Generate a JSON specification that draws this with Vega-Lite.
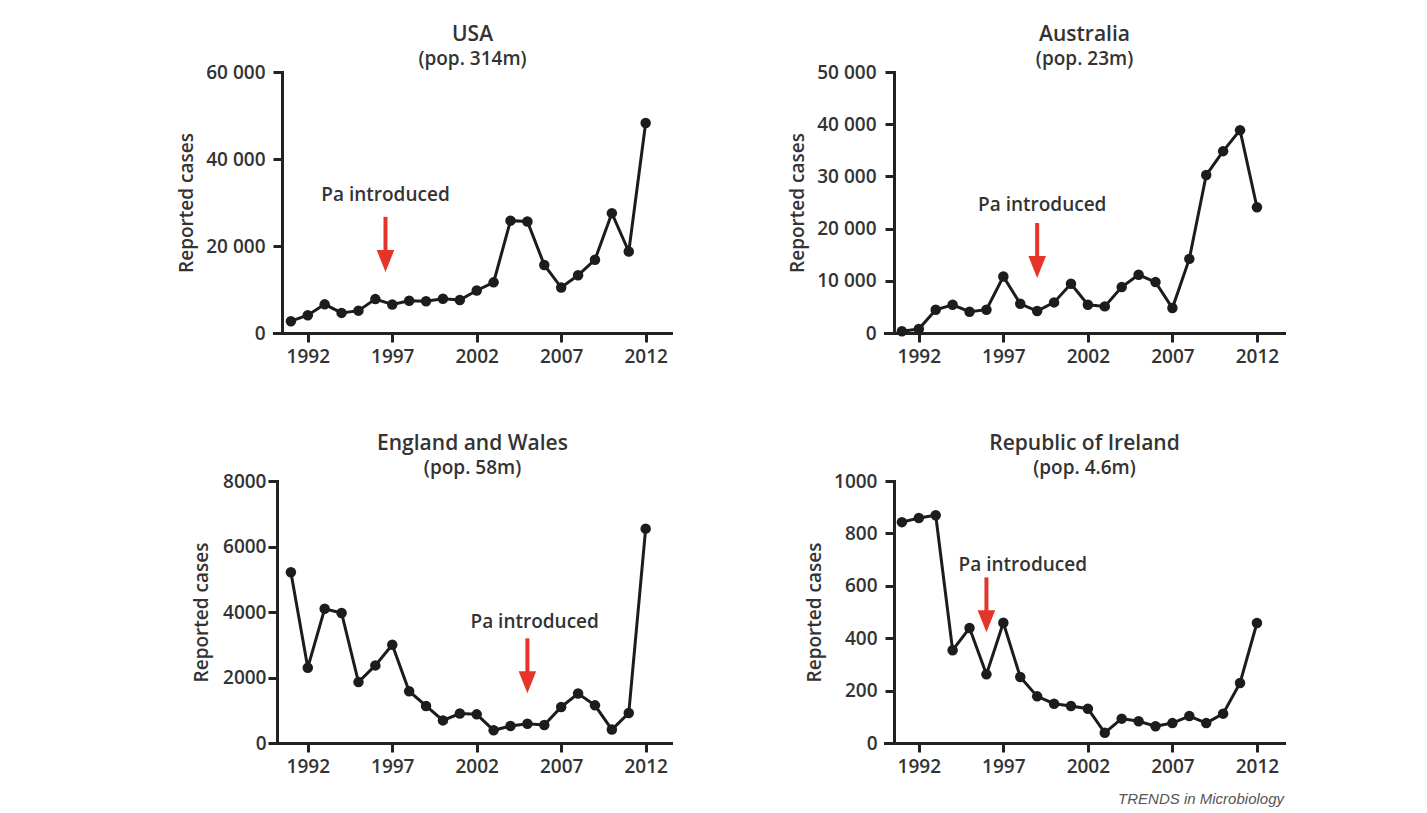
{
  "$schema": "https://vega.github.io/schema/vega-lite/v6.json",
  "background": "white",
  "padding": {"left": 177, "top": 24, "right": 10, "bottom": 5},
  "autosize": {"type": "pad"},
  "config": {
    "font": "Open Sans",
    "view": {"stroke": null},
    "axis": {
      "labelFont": "Open Sans", "labelFontWeight": 600, "labelFontSize": 19, "labelColor": "#333333",
      "titleFont": "Open Sans", "titleFontWeight": 600, "titleFontSize": 19, "titleColor": "#333333",
      "domainColor": "#222222", "domainWidth": 3, "tickColor": "#222222", "tickWidth": 3, "tickSize": 9,
      "grid": false, "domainCap": "square"
    },
    "title": {
      "font": "Open Sans", "fontSize": 21, "fontWeight": 600, "color": "#333333",
      "subtitleFont": "Open Sans", "subtitleFontSize": 19, "subtitleFontWeight": 600, "subtitleColor": "#333333",
      "anchor": "middle", "frame": "group", "offset": -6, "subtitlePadding": 5
    }
  },
  "datasets": {
    "usa": [
      {"year": 1991, "cases": 2719}, {"year": 1992, "cases": 4083}, {"year": 1993, "cases": 6586},
      {"year": 1994, "cases": 4617}, {"year": 1995, "cases": 5137}, {"year": 1996, "cases": 7796},
      {"year": 1997, "cases": 6564}, {"year": 1998, "cases": 7405}, {"year": 1999, "cases": 7288},
      {"year": 2000, "cases": 7867}, {"year": 2001, "cases": 7580}, {"year": 2002, "cases": 9771},
      {"year": 2003, "cases": 11647}, {"year": 2004, "cases": 25827}, {"year": 2005, "cases": 25616},
      {"year": 2006, "cases": 15632}, {"year": 2007, "cases": 10454}, {"year": 2008, "cases": 13278},
      {"year": 2009, "cases": 16858}, {"year": 2010, "cases": 27550}, {"year": 2011, "cases": 18719},
      {"year": 2012, "cases": 48277}
    ],
    "australia": [
      {"year": 1991, "cases": 320}, {"year": 1992, "cases": 760}, {"year": 1993, "cases": 4460},
      {"year": 1994, "cases": 5400}, {"year": 1995, "cases": 4080}, {"year": 1996, "cases": 4460},
      {"year": 1997, "cases": 10830}, {"year": 1998, "cases": 5600}, {"year": 1999, "cases": 4200},
      {"year": 2000, "cases": 5860}, {"year": 2001, "cases": 9430}, {"year": 2002, "cases": 5400},
      {"year": 2003, "cases": 5100}, {"year": 2004, "cases": 8790}, {"year": 2005, "cases": 11150},
      {"year": 2006, "cases": 9750}, {"year": 2007, "cases": 4780}, {"year": 2008, "cases": 14200},
      {"year": 2009, "cases": 30260}, {"year": 2010, "cases": 34840}, {"year": 2011, "cases": 38860},
      {"year": 2012, "cases": 24080}
    ],
    "england": [
      {"year": 1991, "cases": 5212}, {"year": 1992, "cases": 2300}, {"year": 1993, "cases": 4100},
      {"year": 1994, "cases": 3970}, {"year": 1995, "cases": 1860}, {"year": 1996, "cases": 2370},
      {"year": 1997, "cases": 3000}, {"year": 1998, "cases": 1580}, {"year": 1999, "cases": 1130},
      {"year": 2000, "cases": 690}, {"year": 2001, "cases": 900}, {"year": 2002, "cases": 875},
      {"year": 2003, "cases": 390}, {"year": 2004, "cases": 520}, {"year": 2005, "cases": 590},
      {"year": 2006, "cases": 550}, {"year": 2007, "cases": 1100}, {"year": 2008, "cases": 1510},
      {"year": 2009, "cases": 1150}, {"year": 2010, "cases": 410}, {"year": 2011, "cases": 915},
      {"year": 2012, "cases": 6545}
    ],
    "ireland": [
      {"year": 1991, "cases": 843}, {"year": 1992, "cases": 859}, {"year": 1993, "cases": 869},
      {"year": 1994, "cases": 354}, {"year": 1995, "cases": 439}, {"year": 1996, "cases": 262},
      {"year": 1997, "cases": 459}, {"year": 1998, "cases": 252}, {"year": 1999, "cases": 178},
      {"year": 2000, "cases": 150}, {"year": 2001, "cases": 141}, {"year": 2002, "cases": 131},
      {"year": 2003, "cases": 39}, {"year": 2004, "cases": 93}, {"year": 2005, "cases": 83},
      {"year": 2006, "cases": 64}, {"year": 2007, "cases": 76}, {"year": 2008, "cases": 103},
      {"year": 2009, "cases": 76}, {"year": 2010, "cases": 112}, {"year": 2011, "cases": 229},
      {"year": 2012, "cases": 458}
    ],
    "usa_note": [{"year": 1996.6, "textYear": 1996.6, "textY": 31700, "start": 26700, "shaftEnd": 18000, "tip": 14000, "label": "Pa introduced"}],
    "australia_note": [{"year": 1999, "textYear": 1999.3, "textY": 24500, "start": 21070, "shaftEnd": 13600, "tip": 10540, "label": "Pa introduced"}],
    "england_note": [{"year": 2005, "textYear": 2005.43, "textY": 3685, "start": 3197, "shaftEnd": 2006, "tip": 1518, "label": "Pa introduced"}],
    "ireland_note": [{"year": 1996, "textYear": 1998.15, "textY": 678, "start": 632, "shaftEnd": 484, "tip": 423, "label": "Pa introduced"}]
  },
  "bounds": "flush",
  "columns": 2,
  "spacing": {"row": 148, "column": 214},
  "title": {
    "text": "TRENDS in Microbiology", "orient": "bottom", "anchor": "end", "frame": "bounds",
    "font": "Liberation Sans", "fontStyle": "italic", "fontWeight": "normal", "fontSize": 15, "color": "#555555", "offset": 16
  },
  "concat": [
    {
      "width": 397, "height": 261,
      "title": {"text": "USA", "subtitle": "(pop. 314m)"},
      "layer": [
        {"data": {"name": "usa"}, "mark": {"type": "line", "color": "#1c1c1c", "strokeWidth": 3},
         "encoding": {
           "x": {"field": "year", "type": "quantitative", "scale": {"domain": [1990, 2013.5], "nice": false, "zero": false},
                 "axis": {"title": null, "values": [1992, 1997, 2002, 2007, 2012], "format": "d", "labelPadding": 5}},
           "y": {"field": "cases", "type": "quantitative", "scale": {"domain": [0, 60000], "nice": false},
                 "axis": {"title": "Reported cases", "values": [0, 20000, 40000, 60000], "offset": -8, "labelPadding": 8, "titlePadding": 9,
                          "labelExpr": "replace(format(datum.value, ','), ',', ' ')"}}
         }},
        {"data": {"name": "usa"}, "mark": {"type": "point", "filled": true, "color": "#1c1c1c", "size": 110, "opacity": 1},
         "encoding": {"x": {"field": "year", "type": "quantitative"}, "y": {"field": "cases", "type": "quantitative"}}},
        {"data": {"name": "usa_note"}, "mark": {"type": "rule", "color": "#e5352b", "strokeWidth": 4},
         "encoding": {"x": {"field": "year", "type": "quantitative"}, "y": {"field": "start", "type": "quantitative"}, "y2": {"field": "shaftEnd"}}},
        {"data": {"name": "usa_note"}, "mark": {"type": "point", "shape": "M-0.8,-2L0.8,-2L0,0Z", "filled": true, "color": "#e5352b", "size": 484, "opacity": 1},
         "encoding": {"x": {"field": "year", "type": "quantitative"}, "y": {"field": "tip", "type": "quantitative"}}},
        {"data": {"name": "usa_note"}, "mark": {"type": "text", "font": "Open Sans", "fontWeight": 600, "fontSize": 19, "color": "#333333", "baseline": "middle", "align": "center"},
         "encoding": {"x": {"field": "textYear", "type": "quantitative"}, "y": {"field": "textY", "type": "quantitative"}, "text": {"field": "label"}}}
      ]
    },
    {
      "width": 399, "height": 261,
      "title": {"text": "Australia", "subtitle": "(pop. 23m)"},
      "layer": [
        {"data": {"name": "australia"}, "mark": {"type": "line", "color": "#1c1c1c", "strokeWidth": 3},
         "encoding": {
           "x": {"field": "year", "type": "quantitative", "scale": {"domain": [1990, 2013.6], "nice": false, "zero": false},
                 "axis": {"title": null, "values": [1992, 1997, 2002, 2007, 2012], "format": "d", "labelPadding": 5}},
           "y": {"field": "cases", "type": "quantitative", "scale": {"domain": [0, 50000], "nice": false},
                 "axis": {"title": "Reported cases", "values": [0, 10000, 20000, 30000, 40000, 50000], "offset": -9, "labelPadding": 9, "titlePadding": 9,
                          "labelExpr": "replace(format(datum.value, ','), ',', ' ')"}}
         }},
        {"data": {"name": "australia"}, "mark": {"type": "point", "filled": true, "color": "#1c1c1c", "size": 110, "opacity": 1},
         "encoding": {"x": {"field": "year", "type": "quantitative"}, "y": {"field": "cases", "type": "quantitative"}}},
        {"data": {"name": "australia_note"}, "mark": {"type": "rule", "color": "#e5352b", "strokeWidth": 4},
         "encoding": {"x": {"field": "year", "type": "quantitative"}, "y": {"field": "start", "type": "quantitative"}, "y2": {"field": "shaftEnd"}}},
        {"data": {"name": "australia_note"}, "mark": {"type": "point", "shape": "M-0.8,-2L0.8,-2L0,0Z", "filled": true, "color": "#e5352b", "size": 484, "opacity": 1},
         "encoding": {"x": {"field": "year", "type": "quantitative"}, "y": {"field": "tip", "type": "quantitative"}}},
        {"data": {"name": "australia_note"}, "mark": {"type": "text", "font": "Open Sans", "fontWeight": 600, "fontSize": 19, "color": "#333333", "baseline": "middle", "align": "center"},
         "encoding": {"x": {"field": "textYear", "type": "quantitative"}, "y": {"field": "textY", "type": "quantitative"}, "text": {"field": "label"}}}
      ]
    },
    {
      "width": 397, "height": 262,
      "title": {"text": "England and Wales", "subtitle": "(pop. 58m)"},
      "layer": [
        {"data": {"name": "england"}, "mark": {"type": "line", "color": "#1c1c1c", "strokeWidth": 3},
         "encoding": {
           "x": {"field": "year", "type": "quantitative", "scale": {"domain": [1990, 2013.5], "nice": false, "zero": false},
                 "axis": {"title": null, "values": [1992, 1997, 2002, 2007, 2012], "format": "d", "labelPadding": 5}},
           "y": {"field": "cases", "type": "quantitative", "scale": {"domain": [0, 8000], "nice": false},
                 "axis": {"title": "Reported cases", "values": [0, 2000, 4000, 6000, 8000], "offset": -3, "labelPadding": 2, "titlePadding": 11, "format": "d"}}
         }},
        {"data": {"name": "england"}, "mark": {"type": "point", "filled": true, "color": "#1c1c1c", "size": 110, "opacity": 1},
         "encoding": {"x": {"field": "year", "type": "quantitative"}, "y": {"field": "cases", "type": "quantitative"}}},
        {"data": {"name": "england_note"}, "mark": {"type": "rule", "color": "#e5352b", "strokeWidth": 4},
         "encoding": {"x": {"field": "year", "type": "quantitative"}, "y": {"field": "start", "type": "quantitative"}, "y2": {"field": "shaftEnd"}}},
        {"data": {"name": "england_note"}, "mark": {"type": "point", "shape": "M-0.8,-2L0.8,-2L0,0Z", "filled": true, "color": "#e5352b", "size": 484, "opacity": 1},
         "encoding": {"x": {"field": "year", "type": "quantitative"}, "y": {"field": "tip", "type": "quantitative"}}},
        {"data": {"name": "england_note"}, "mark": {"type": "text", "font": "Open Sans", "fontWeight": 600, "fontSize": 19, "color": "#333333", "baseline": "middle", "align": "center"},
         "encoding": {"x": {"field": "textYear", "type": "quantitative"}, "y": {"field": "textY", "type": "quantitative"}, "text": {"field": "label"}}}
      ]
    },
    {
      "width": 399, "height": 262,
      "title": {"text": "Republic of Ireland", "subtitle": "(pop. 4.6m)"},
      "layer": [
        {"data": {"name": "ireland"}, "mark": {"type": "line", "color": "#1c1c1c", "strokeWidth": 3},
         "encoding": {
           "x": {"field": "year", "type": "quantitative", "scale": {"domain": [1990, 2013.6], "nice": false, "zero": false},
                 "axis": {"title": null, "values": [1992, 1997, 2002, 2007, 2012], "format": "d", "labelPadding": 5}},
           "y": {"field": "cases", "type": "quantitative", "scale": {"domain": [0, 1000], "nice": false},
                 "axis": {"title": "Reported cases", "values": [0, 200, 400, 600, 800, 1000], "offset": -9, "labelPadding": 8, "titlePadding": 9, "format": "d"}}
         }},
        {"data": {"name": "ireland"}, "mark": {"type": "point", "filled": true, "color": "#1c1c1c", "size": 110, "opacity": 1},
         "encoding": {"x": {"field": "year", "type": "quantitative"}, "y": {"field": "cases", "type": "quantitative"}}},
        {"data": {"name": "ireland_note"}, "mark": {"type": "rule", "color": "#e5352b", "strokeWidth": 4},
         "encoding": {"x": {"field": "year", "type": "quantitative"}, "y": {"field": "start", "type": "quantitative"}, "y2": {"field": "shaftEnd"}}},
        {"data": {"name": "ireland_note"}, "mark": {"type": "point", "shape": "M-0.8,-2L0.8,-2L0,0Z", "filled": true, "color": "#e5352b", "size": 484, "opacity": 1},
         "encoding": {"x": {"field": "year", "type": "quantitative"}, "y": {"field": "tip", "type": "quantitative"}}},
        {"data": {"name": "ireland_note"}, "mark": {"type": "text", "font": "Open Sans", "fontWeight": 600, "fontSize": 19, "color": "#333333", "baseline": "middle", "align": "center"},
         "encoding": {"x": {"field": "textYear", "type": "quantitative"}, "y": {"field": "textY", "type": "quantitative"}, "text": {"field": "label"}}}
      ]
    }
  ]
}
